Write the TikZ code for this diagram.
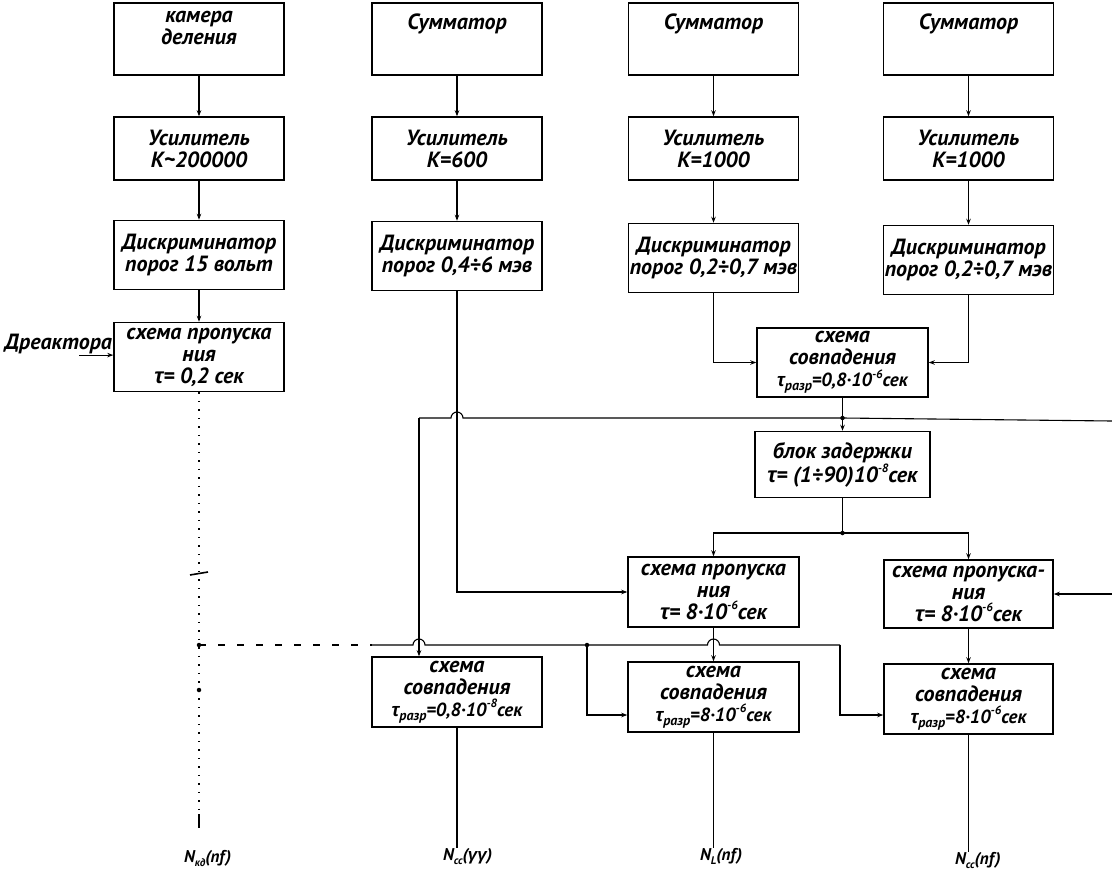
\documentclass[tikz,border=0pt]{standalone}
\usepackage{fontspec}
\setmainfont{PT Sans}
\newfontfamily\grk{Liberation Sans}
\usetikzlibrary{arrows.meta,calc}
\newcommand\tauc{{\grk τ}}
\newcommand\gam{{\grk γ}}
\newcommand\lsub[1]{\raisebox{-0.45ex}{\fontsize{14}{14}\selectfont #1}}
\newcommand\lsup[1]{\raisebox{0.9ex}{\fontsize{12}{12}\selectfont #1}}
\newcommand\nsub[1]{\raisebox{-0.5ex}{\fontsize{11}{11}\selectfont #1}}
\newcommand\lett{\fontsize{22}{22}\selectfont\bfseries\itshape}
\newcommand\smlett{\fontsize{19}{20}\selectfont}
\begin{document}
\begin{tikzpicture}[x=1pt,y=-1pt,
  box/.style={draw, line width=1.5pt, minimum width=170pt, align=center, inner sep=1pt, font=\lett},
  conn/.style={line width=1.1pt},
  arr/.style={conn,-{Stealth[length=6pt,width=4.5pt]}},
  jdot/.style={circle, fill, inner sep=0pt, minimum size=4.5pt},
  lbl/.style={font=\fontsize{17}{17}\selectfont\bfseries\itshape, inner sep=0pt}]
\useasboundingbox (0,0) rectangle (1112,881);
\fill[white] (0,0) rectangle (1112,881);

% row 1
\node[box, minimum height=72pt] (k1) at (199,39) {камера\\деления\\[0pt]\mbox{}};
\node[box, minimum height=72pt] (s2) at (457,39) {Сумматор\\[12pt]\mbox{}};
\node[box, minimum height=72pt] (s3) at (713.5,39) {Сумматор\\[12pt]\mbox{}};
\node[box, minimum height=72pt] (s4) at (968.5,39) {Сумматор\\[12pt]\mbox{}};
% row 2
\node[box, minimum height=63pt] (u1) at (199,148.5) {Усилитель\\К\textasciitilde 200000};
\node[box, minimum height=63pt] (u2) at (457,148.5) {Усилитель\\К=600};
\node[box, minimum height=63pt] (u3) at (713.5,148.5) {Усилитель\\К=1000};
\node[box, minimum height=63pt] (u4) at (968.5,148.5) {Усилитель\\К=1000};
% row 3
\node[box, minimum height=69pt] (d1) at (199,255) {Дискриминатор\\порог 15 вольт};
\node[box, minimum height=69pt] (d2) at (457,256) {Дискриминатор\\порог 0,4÷6 мэв};
\node[box, minimum height=69pt] (d3) at (713.5,258) {Дискриминатор\\порог 0,2÷0,7 мэв};
\node[box, minimum height=69pt] (d4) at (968.5,260) {Дискриминатор\\порог 0,2÷0,7 мэв};
% col 1 gate
\node[box, minimum height=69pt] (p1) at (199,357) {схема пропуска\\ния\\\tauc= 0,2 сек};
\node[font=\lett, anchor=east, inner sep=1pt] (rl) at ($(p1.west)+(0,-13)$) {Дреактора};
% top coincidence and delay
\node[box, minimum height=69pt, minimum width=171pt] (c0) at (842.5,362.5) {схема\\совпадения\\{\smlett\tauc\lsub{разр}=0,8·10\lsup{-6}сек}};
\node[box, minimum height=66pt, minimum width=175pt] (b0) at (842.5,464.5) {блок задержки\\\tauc = (1÷90)10\lsup{-8}сек};
% gates
\node[box, minimum height=70pt, minimum width=171pt] (p3) at (713.5,592) {схема пропуска\\ния\\\tauc= 8·10\lsup{-6}сек};
\node[box, minimum height=68pt, minimum width=169pt] (p4) at (968.5,594) {схема пропуска-\\ния\\\tauc= 8·10\lsup{-6}сек};
% bottom coincidences
\node[box, minimum height=70pt] (c2) at (457,692) {схема\\совпадения\\{\smlett\tauc\lsub{разр}=0,8·10\lsup{-8}сек}};
\node[box, minimum height=70pt, minimum width=171pt] (c3) at (713.5,697) {схема\\совпадения\\{\smlett\tauc\lsub{разр}=8·10\lsup{-6}сек}};
\node[box, minimum height=70pt, minimum width=169pt] (c4) at (968.5,699) {схема\\совпадения\\{\smlett\tauc\lsub{разр}=8·10\lsup{-6}сек}};

% coordinates
\coordinate (j1) at (842.5,418);
\coordinate (q2) at (419,418);
\coordinate (e1) at (1112,421);
\coordinate (j2) at (842.5,533);
\coordinate (e2) at (1112,594);
\coordinate (h0) at (199,645);
\coordinate (hd) at (372,645);
\coordinate (j3) at (587,645);
\coordinate (t4) at (840,645);
\coordinate (y715) at (0,715);
\coordinate (tk) at (199,828);

% vertical chains
\draw[arr] (k1) -- (u1);
\draw[arr] (s2) -- (u2);
\draw[arr] (s3) -- (u3);
\draw[arr] (s4) -- (u4);
\foreach \c in {1,2,3,4}{
  \draw[arr] (u\c) -- (d\c);
}
\draw[arr] (d1) -- (p1);
\draw[arr] ($(rl.south east)+(-34,0)$) -- (rl.south east -| p1.west);
\draw[conn, dash pattern=on 1.5pt off 7pt] (p1.south) -- (tk);
\draw[conn] ($(tk)+(0,-14)$) -- (tk);

% top coincidence inputs
\draw[arr] (d3.south) |- (c0.west);
\draw[arr] (d4.south) |- (c0.east);
\draw[conn] (c0.south) -- (j1);
\draw[arr] (j1) -- (b0.north);
\draw[conn] (e1) -- (j1) -- (463,418) arc[start angle=0, end angle=180, radius=6pt] -- (q2);
\draw[arr] (q2) -- (q2 |- c2.north);
\draw[arr] (d2.south) |- (p3.west);

% delay outputs
\draw[conn] (b0.south) -- (j2);
\draw[arr] (j2) -| (p3.north);
\draw[arr] (j2) -| (p4.north);
\draw[arr] (e2) -- (e2 -| p4.east);
\draw[arr] (p3) -- (c3);
\draw[arr] (p4) -- (c4);

% horizontal line from chamber
\draw[conn, dash pattern=on 7pt off 12pt] (h0) -- (hd);
\draw[conn] (hd) -- (413,645) arc[start angle=180, end angle=0, radius=6pt] -- (j3) -- (707.5,645) arc[start angle=180, end angle=0, radius=6pt] -- (t4);
\draw[arr] (t4) |- (c4.west |- y715);
\draw[arr] (j3) |- (c3.west |- y715);

% junction dots
\node[jdot] (dj1) at (j1) {};
\node[jdot] (dj2) at (j2) {};
\node[jdot] (dj3) at (j3) {};
\node[jdot] (dh0) at (h0) {};
\node[jdot] (dm2) at (199,690) {};
\draw[line width=1.6pt] (190,575) -- (208,572);

% outputs
\node[lbl, anchor=north west] (n1) at (184,850) {N\nsub{кд}(nf)};
\node[lbl, anchor=north west] (n2) at (443,848) {N\nsub{сс}(\gam\gam)};
\node[lbl, anchor=north west] (n3) at (700,848) {N\nsub{L}(nf)};
\node[lbl, anchor=north west] (n4) at (955,852) {N\nsub{сс}(nf)};
\draw[conn] (c2.south) -- (c2.south |- n2.north);
\draw[conn] (c3.south) -- (c3.south |- n3.north);
\draw[conn] (c4.south) -- (c4.south |- n4.north);
\end{tikzpicture}
\end{document}
